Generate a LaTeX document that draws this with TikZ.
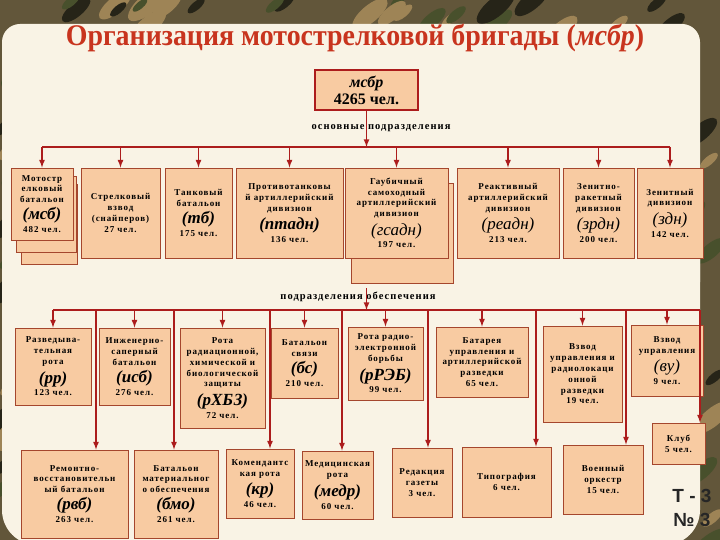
\documentclass[tikz,border=0pt]{standalone}
\usepackage{graphicx}
\usepackage{fontspec}
\setmainfont{Liberation Serif}
\newfontfamily\bx{Liberation Serif}[LetterSpace=10]
\newfontfamily\nmr{Liberation Sans}

\definecolor{peach}{RGB}{248,203,162}
\definecolor{boxline}{RGB}{165,70,45}
\definecolor{wire}{RGB}{172,28,28}
\definecolor{panel}{RGB}{249,243,229}
\definecolor{camo}{RGB}{98,86,58}
\definecolor{camoA}{RGB}{38,36,24}
\definecolor{camoB}{RGB}{158,132,86}
\definecolor{camoC}{RGB}{72,80,44}
\definecolor{titlered}{RGB}{200,52,30}

\newcommand\abr[1]{{\normalfont\bfseries\itshape\fontsize{17}{18}\selectfont #1}}
\newcommand\abl[1]{{\normalfont\itshape\fontsize{17}{18}\selectfont #1}}

\begin{document}
\begin{tikzpicture}[x=1pt, y=-1pt,
    box/.style={rectangle, draw=boxline, line width=0.9pt, fill=peach, align=center, inner sep=1pt,
        font=\bx\bfseries\fontsize{9}{10.8}\selectfont},
    wh/.style 2 args={minimum width=#1pt, minimum height=#2pt},
    wire/.style={draw=wire, line width=1.6pt},
    arr/.style={wire, -latex},
    lbl/.style={font=\bx\bfseries\fontsize{10.5}{11}\selectfont}]
    \useasboundingbox (0,0) rectangle (720,540);

    % camouflage frame and paper panel
    \fill[camo] (0,0) rectangle (720,540);
    \pgfmathsetseed{11}
    \foreach \k in {1,...,260}{
        \pgfmathsetmacro\cx{720*rnd}
        \pgfmathsetmacro\cy{560*rnd}
        \pgfmathsetmacro\cr{5+9*rnd}
        \pgfmathtruncatemacro\cc{mod(\k,3)}
        \ifcase\cc \def\cl{camoA}\or\def\cl{camoB}\else\def\cl{camoC}\fi
        \fill[\cl, rotate around={40:(\cx,\cy)}] (\cx,\cy) ellipse ({1.8*\cr} and {0.7*\cr});
    }
    \fill[panel, rounded corners=18pt] (2,24) rectangle (700,300);
    \fill[panel, rounded corners=35pt] (2,200) rectangle (700,545);

    \node[font=\bfseries\fontsize{30}{32}\selectfont, text=titlered] (TITLE) at (355,38)
        {\scalebox{0.93}[1]{Организация мотострелковой бригады (\textit{мсбр})}};

    \node[box, draw=wire, line width=2pt, wh={103}{40}, font=\bfseries\fontsize{16}{17}\selectfont] (MSBR) at (366.5,90)
        {\textit{мсбр}\\4265 чел.};

    % main units
    \node[box, wh={56}{80}] (MSB3) at (49,224) {};
    \node[box, wh={60}{76}] (MSB2) at (46,214) {};
    \node[box, wh={62}{72}] (MSB) at (42,204) {Мотостр\\елковый\\батальон\\[4pt]\abr{(мсб)}\\[2pt]482 чел.};
    \node[box, wh={79}{90}] (SV) at (120.5,213) {Стрелковый\\взвод\\(снайперов)\\27 чел.};
    \node[box, wh={67}{90}] (TB) at (198.5,213) {Танковый\\батальон\\[4pt]\abr{(тб)}\\[2pt]175 чел.};
    \node[box, wh={107}{90}] (PTADN) at (289.5,213) {Противотанковы\\й артиллерийский\\дивизион\\[4pt]\abr{(птадн)}\\[2pt]136 чел.};
    \node[box, wh={102}{100}] (GSADN2) at (402,233) {};
    \node[box, wh={103}{90}] (GSADN) at (396.5,213) {Гаубичный\\самоходный\\артиллерийский\\дивизион\\[4pt]\abl{(гсадн)}\\[2pt]197 чел.};
    \node[box, wh={102}{90}] (READN) at (508,213) {Реактивный\\артиллерийский\\дивизион\\[4pt]\abl{(реадн)}\\[2pt]213 чел.};
    \node[box, wh={71}{90}] (ZRDN) at (598.5,213) {Зенитно-\\ракетный\\дивизион\\[4pt]\abl{(зрдн)}\\[2pt]200 чел.};
    \node[box, wh={66}{90}] (ZDN) at (670,213) {Зенитный\\дивизион\\[4pt]\abl{(здн)}\\[2pt]142 чел.};

    % support units
    \node[box, wh={76}{77}] (RR) at (53,366.5) {Разведыва-\\тельная\\рота\\[4pt]\abr{(рр)}\\[2pt]123 чел.};
    \node[box, wh={71}{77}] (ISB) at (134.5,366.5) {Инженерно-\\саперный\\батальон\\[4pt]\abr{(исб)}\\[2pt]276 чел.};
    \node[box, wh={85}{100}] (RHBZ) at (222.5,378) {Рота\\радиационной,\\химической и\\биологической\\защиты\\[4pt]\abr{(рХБЗ)}\\[2pt]72 чел.};
    \node[box, wh={67}{70}] (BS) at (304.5,363) {Батальон\\связи\\[4pt]\abr{(бс)}\\[2pt]210 чел.};
    \node[box, wh={75}{73}] (RREB) at (385.5,363.5) {Рота радио-\\электронной\\борьбы\\[4pt]\abr{(рРЭБ)}\\[2pt]99 чел.};
    \node[box, wh={92}{70}] (BATAR) at (482,362) {Батарея\\управления и\\артиллерийской\\разведки\\65 чел.};
    \node[box, wh={79}{96}] (VURR) at (582.5,374) {Взвод\\управления и\\радиолокаци\\онной\\разведки\\19 чел.};
    \node[box, wh={72}{71}] (VU) at (667,360.5) {Взвод\\управления\\[4pt]\abl{(ву)}\\[2pt]9 чел.};
    \node[box, wh={53}{41}] (KLUB) at (678.5,443.5) {Клуб\\5 чел.};

    \node[box, wh={107}{88}] (RVB) at (74.5,494) {Ремонтно-\\восстановительн\\ый батальон\\[4pt]\abr{(рвб)}\\[2pt]263 чел.};
    \node[box, wh={84}{88}] (BMO) at (176,494) {Батальон\\материальног\\о обеспечения\\[4pt]\abr{(бмо)}\\[2pt]261 чел.};
    \node[box, wh={68}{69}] (KR) at (260,483.5) {Комендантс\\кая рота\\[4pt]\abr{(кр)}\\[2pt]46 чел.};
    \node[box, wh={71}{68}] (MEDR) at (337.5,485) {Медицинская\\рота\\[4pt]\abr{(медр)}\\[2pt]60 чел.};
    \node[box, wh={60}{69}] (RG) at (422,482.5) {Редакция\\газеты\\3 чел.};
    \node[box, wh={89}{70}] (TIP) at (506.5,482) {Типография\\6 чел.};
    \node[box, wh={80}{69}] (VO) at (603,479.5) {Военный\\оркестр\\15 чел.};

    % connectors
    \coordinate (b1) at (366.5,147);
    \node[lbl] (OSN) at (381,128) {основные подразделения};
    \draw[arr] (MSBR) -- (b1);
    \draw[wire] (MSB.north |- b1) -- (ZDN.north |- b1);
    \foreach \n in {MSB,SV,TB,PTADN,GSADN,READN,ZRDN,ZDN}
        \draw[arr] (\n.north |- b1) -- (\n.north);

    \coordinate (obesp) at (366.5,288);
    \coordinate (b2) at (366.5,310);
    \node[lbl] (OBS) at (358,297) {подразделения обеспечения};
    \draw[arr] (obesp) -- (b2);
    \foreach \n in {RR,ISB,RHBZ,BS,RREB,BATAR,VURR,VU}
        \draw[arr] (\n.north |- b2) -- (\n.north);
    \foreach \n/\x in {RVB/96,BMO/174,KR/270,MEDR/342,RG/428,TIP/536,VO/626,KLUB/700}{
        \coordinate (d\n) at (\x,310);
        \draw[arr] (d\n) -- (d\n |- \n.north);
    }
    \draw[wire] (RR.north |- b2) -- (dKLUB);

    \node[font=\nmr\bfseries\fontsize{19}{20}\selectfont, text=black!85] (T3) at (692,496) {Т - 3};
    \node[font=\nmr\bfseries\fontsize{19}{20}\selectfont, text=black!85] (N3) at (692,520) {№ 3};
\end{tikzpicture}
\end{document}
